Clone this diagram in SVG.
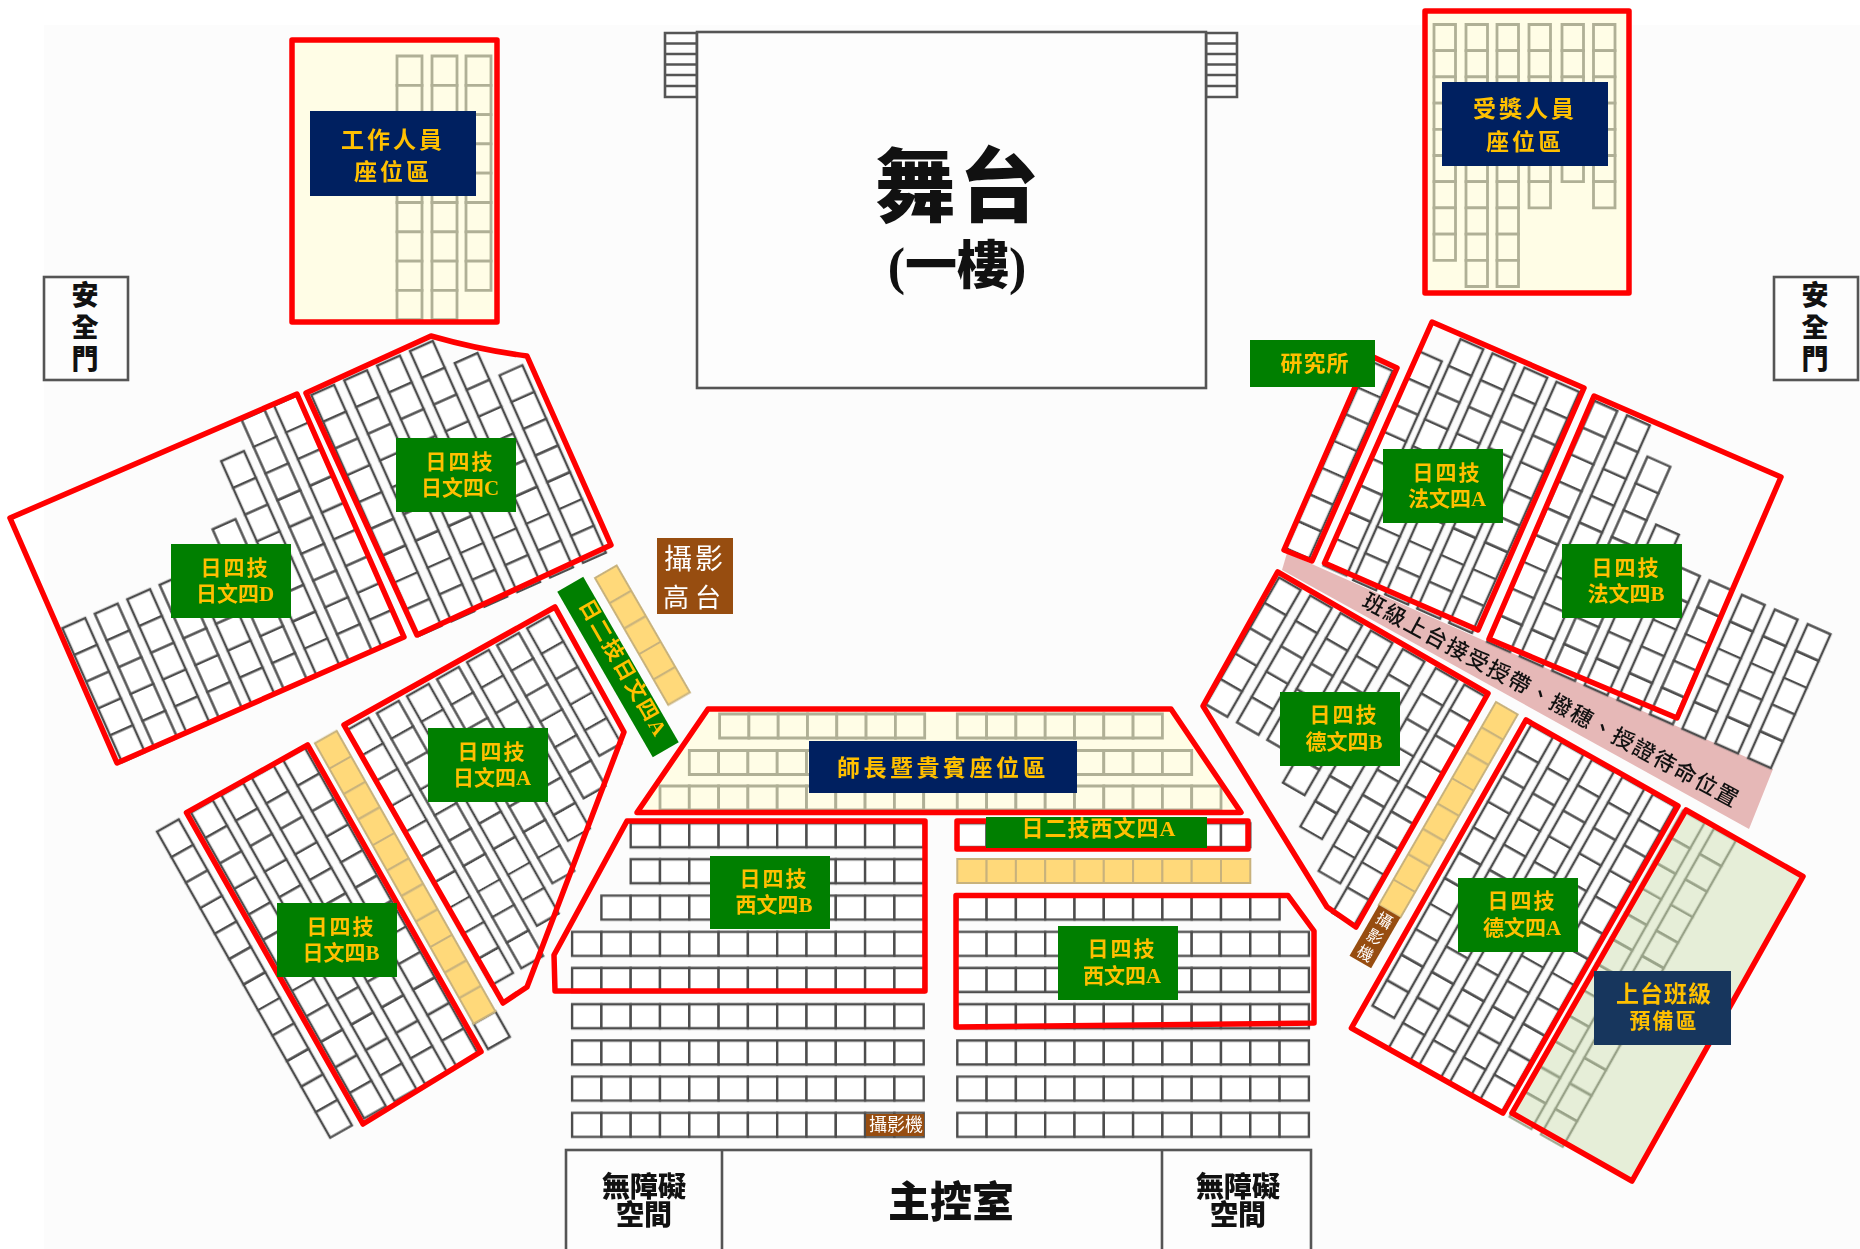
<svg xmlns="http://www.w3.org/2000/svg" xmlns:xlink="http://www.w3.org/1999/xlink" width="1860" height="1249" viewBox="0 0 1860 1249">
<style>
text{font-family:"Liberation Serif","Noto Sans CJK TC",serif;text-anchor:middle}
.seats{fill:#fff;stroke:#4d4d4d;stroke-width:2.4;filter:url(#soft)}
.muted{fill:#fffde6;stroke:#b0b096;stroke-width:2.8;filter:url(#soft)}
.olive{fill:none;stroke:#98a288;stroke-width:2.4;filter:url(#soft)}
.gold{fill:#ffd97a;stroke:#c8b27c;stroke-width:2;filter:url(#soft)}
.edge{fill:none;stroke:#999;stroke-width:2;filter:url(#soft)}
.red{fill:none;stroke:#f00;stroke-width:5.5;stroke-linejoin:round}
.line{fill:#fdfdfd;stroke:#555;stroke-width:2.6;filter:url(#soft)}
.g{fill:#007f00}.n{fill:#002060}.b{fill:#974d10}
.lb{fill:#ffc000;font-weight:700;font-size:21px}
.nb{fill:#ffc000;font-weight:700;font-size:23px;letter-spacing:3px}
.bk{fill:#111;font-weight:900}
.s1{letter-spacing:2px}
</style>
<defs>
<filter id="soft" x="-5%" y="-5%" width="110%" height="110%"><feGaussianBlur stdDeviation="0.6"/></filter>
<path id="s" d="M0 0h25v29.3H0z"/>
<g id="c2"><use href="#s"/><use href="#s" y="29.3"/></g>
<g id="c4"><use href="#c2"/><use href="#c2" y="58.6"/></g>
<g id="c5"><use href="#c4"/><use href="#s" y="117.2"/></g>
<g id="c6"><use href="#c4"/><use href="#c2" y="117.2"/></g>
<g id="c7"><use href="#c6"/><use href="#s" y="175.8"/></g>
<g id="c8"><use href="#c4"/><use href="#c4" y="117.2"/></g>
<g id="c9"><use href="#c8"/><use href="#s" y="234.4"/></g>
<g id="c10"><use href="#c8"/><use href="#c2" y="234.4"/></g>
<g id="c11"><use href="#c10"/><use href="#s" y="293"/></g>
<g id="c12"><use href="#c8"/><use href="#c4" y="234.4"/></g>
<path id="h" d="M0 0h29.3v24H0z"/>
<g id="h2"><use href="#h"/><use href="#h" x="29.3"/></g>
<g id="h4"><use href="#h2"/><use href="#h2" x="58.6"/></g>
<g id="h7"><use href="#h4"/><use href="#h2" x="117.2"/><use href="#h" x="175.8"/></g>
<g id="h8"><use href="#h4"/><use href="#h4" x="117.2"/></g>
<g id="h9"><use href="#h8"/><use href="#h" x="234.4"/></g>
<g id="h10"><use href="#h8"/><use href="#h2" x="234.4"/></g>
<g id="h11"><use href="#h10"/><use href="#h" x="293"/></g>
<g id="h12"><use href="#h8"/><use href="#h4" x="234.4"/></g>
<path id="t" d="M0 0h21.5v26.2H0z"/>
<g id="t2"><use href="#t"/><use href="#t" y="26.2"/></g>
<g id="t4"><use href="#t2"/><use href="#t2" y="52.4"/></g>
<g id="t6"><use href="#t4"/><use href="#t2" y="104.8"/></g>
<g id="t7"><use href="#t6"/><use href="#t" y="157.2"/></g>
<g id="t9"><use href="#t7"/><use href="#t2" y="183.4"/></g>
<g id="t10"><use href="#t9"/><use href="#t" y="235.8"/></g>
</defs>

<rect id="backdrop" x="44" y="25" width="1816" height="1224" fill="#fcfcfc"/>

<g id="stage">
<path class="line" d="M665 33h32v64h-32zM665 43.500h32M665 54h32M665 64.500h32M665 75h32M665 86h32"/>
<path class="line" d="M1206 33h31v64h-31zM1206 43.500h31M1206 54h31M1206 64.500h31M1206 75h31M1206 86h31"/>
<rect class="line" x="697" y="32" width="509" height="356"/>
<text class="bk" x="959" y="215" font-size="80" letter-spacing="4">舞台</text>
<text class="bk" x="957" y="284" font-size="52">(一樓)</text>
</g>

<g id="door-left"><rect class="line" x="44" y="277" width="84" height="103"/>
<text class="bk" x="85" y="305" font-size="27">安</text><text class="bk" x="85" y="337" font-size="27">全</text><text class="bk" x="85" y="369" font-size="27">門</text></g>
<g id="door-right"><rect class="line" x="1774" y="277" width="84" height="103"/>
<text class="bk" x="1815" y="305" font-size="27">安</text><text class="bk" x="1815" y="337" font-size="27">全</text><text class="bk" x="1815" y="369" font-size="27">門</text></g>

<g id="fills">
<rect x="290" y="38" width="209" height="286" fill="#fffde6"/>
<rect x="1423" y="9" width="207" height="285" fill="#fffde6"/>
<path d="M708 709H1171L1241 812.500H637z" fill="#fffde6"/>
<path d="M1686 810L1803 876.500 1632 1181 1512 1113z" fill="#e6eed8"/>
<path d="M1287 553L1773 769 1749 829 1282 570z" fill="#e6b8b7"/>
</g>

<g id="seats-top" class="muted">
<use href="#c9" x="397" y="56"/><use href="#c9" x="432" y="56"/><use href="#c8" x="466" y="56"/>
<use href="#t9" x="1434" y="24.500"/><use href="#t10" x="1466" y="24.500"/><use href="#t10" x="1497" y="24.500"/><use href="#t7" x="1529" y="24.500"/><use href="#t6" x="1562" y="24.500"/><use href="#t7" x="1593.500" y="24.500"/>
</g>

<g id="seats-d" class="seats" transform="translate(10 518) rotate(-24)">
<use href="#c5" x="3" y="122"/><use href="#c5" x="38.500" y="122"/><use href="#c5" x="74" y="122"/><use href="#c5" x="109.500" y="122"/><use href="#c5" x="145" y="122"/><use href="#c6" x="180.500" y="92.700"/><use href="#c8" x="216" y="34"/><use href="#c9" x="251.500" y="4.800"/><use href="#c9" x="287" y="4.800"/>
</g>
<g id="seats-c" class="seats" transform="translate(306 393) rotate(-24)">
<use href="#c9" x="4" y="4"/><use href="#c9" x="40" y="4"/><use href="#c9" x="76" y="4"/><use href="#c9" x="112" y="4"/><use href="#c8" x="148" y="33.300"/><use href="#c7" x="184" y="62.600"/>
</g>
<g id="seats-a" class="seats" transform="translate(344 725) rotate(-29.500)">
<use href="#c10" x="0" y="6"/><use href="#c10" x="34.500" y="6"/><use href="#c9" x="69" y="6"/><use href="#c8" x="103.500" y="6"/><use href="#c7" x="138" y="6"/><use href="#c6" x="172.500" y="6"/><use href="#c5" x="207" y="6"/>
</g>
<g id="seats-b" class="seats" transform="translate(186.500 812.700) rotate(-29.500)">
<use href="#c12" x="-35" y="2"/><use href="#c12" x="4" y="2"/><use href="#c12" x="39" y="2"/><use href="#c12" x="74" y="2"/><use href="#c12" x="110" y="2"/><use href="#s" x="146" y="325"/>
</g>
<g transform="translate(186.500 812.700) rotate(-29.500)"><path class="edge" d="M144.500 3V325"/><g id="seats-b-gold" class="gold"><use href="#c10" x="146" y="2.700"/><use href="#s" x="146" y="295.700"/></g></g>
<g transform="translate(595 578) rotate(-30)"><path class="edge" d="M26.500 2V147"/><g id="seats-gold-2" class="gold"><use href="#c5"/></g></g>

<g id="seats-center" class="muted">
<use href="#h7" x="719.600" y="714"/><use href="#h7" x="957.300" y="714"/>
<use href="#h8" x="689.300" y="750.500"/><use href="#h8" x="957.300" y="750.500"/>
<use href="#h9" x="660" y="786"/><rect x="923.700" y="786" width="33.600" height="24"/><use href="#h9" x="957.300" y="786"/>
</g>
<g id="seats-rows" class="seats" transform="translate(0 -0.800)">
<use href="#h10" x="630.700" y="824"/><use href="#h10" x="630.700" y="860"/><use href="#h11" x="601.400" y="896.400"/>
<use href="#h12" x="572.100" y="932.600"/><use href="#h12" x="572.100" y="968.800"/><use href="#h12" x="572.100" y="1005"/><use href="#h12" x="572.100" y="1041.200"/><use href="#h12" x="572.100" y="1077.400"/><use href="#h12" x="572.100" y="1113.600"/>
<use href="#h10" x="957.300" y="824"/><use href="#h11" x="957.300" y="896.400"/>
<use href="#h12" x="957.300" y="932.600"/><use href="#h12" x="957.300" y="968.800"/><use href="#h12" x="957.300" y="1005"/><use href="#h12" x="957.300" y="1041.200"/><use href="#h12" x="957.300" y="1077.400"/><use href="#h12" x="957.300" y="1113.600"/>
</g>
<path class="edge" d="M957.300 884.500H1250.300" style="stroke:#777;stroke-width:2.4"/>
<g id="seats-rows-gold" class="gold"><use href="#h10" x="957.300" y="859"/></g>

<g id="seats-research" class="seats" transform="translate(1369 355) rotate(24)"><use href="#c7" x="3" y="5"/></g>
<g id="seats-fa" class="seats" transform="translate(1432 322) rotate(24)">
<use href="#c8" x="0" y="32"/><use href="#c9" x="33" y="4"/><use href="#c9" x="68" y="4"/><use href="#c9" x="103" y="4"/><use href="#c9" x="138" y="4"/>
</g>
<g id="seats-fb" class="seats" transform="translate(1594 396) rotate(24)">
<use href="#c9" x="2.400" y="4.300"/><use href="#c9" x="38" y="4.300"/><use href="#c8" x="73.500" y="33.600"/><use href="#c6" x="109" y="92.200"/><use href="#c5" x="145" y="121.500"/><use href="#c5" x="180.500" y="121.500"/><use href="#c5" x="216" y="121.500"/><use href="#c5" x="252" y="121.500"/><use href="#c5" x="288" y="121.500"/>
</g>
<g id="seats-gb" class="seats" transform="translate(1277.600 572) rotate(30)">
<use href="#c5" x="4" y="4"/><use href="#c5" x="40" y="4"/><use href="#c5" x="75" y="4"/><use href="#c6" x="110" y="4"/><use href="#c7" x="147" y="4"/><use href="#c8" x="185" y="4"/><use href="#c9" x="218" y="4"/>
</g>
<g id="seats-ga" class="seats" transform="translate(1526 720) rotate(29.500)">
<use href="#c11" x="7" y="2"/><use href="#c12" x="42" y="2"/><use href="#c12" x="77" y="2"/><use href="#c12" x="112" y="2"/><use href="#c12" x="147" y="2"/>
</g>
<g id="seats-prep" class="olive" transform="translate(1686 809) rotate(29.500)"><use href="#c12" x="-2" y="3"/><use href="#c12" x="34" y="3"/></g>
<g transform="translate(1496 702) rotate(30)"><path class="edge" d="M26.500 2V292"/><g id="seats-gold-3" class="gold"><use href="#c8"/></g></g>

<g id="outlines" class="red">
<rect x="292" y="40" width="205" height="282"/>
<rect x="1425" y="11" width="204" height="282"/>
<path d="M10 518L297 394 404 637 117 763z"/>
<path d="M306 393L431 336 Q480 350 527 356L611 545 417 635z"/>
<path d="M344 725L555 607 624 732 527 987 503 1003z"/>
<path d="M186.500 812.700L307.700 745 481 1051.700 363 1124z"/>
<path d="M708 709H1171L1241 812.500H637z"/>
<path d="M627 821H925V991H555L554 955z"/>
<rect x="957" y="821" width="291" height="28"/>
<path d="M956 895.500H1288L1314 931V1023L956 1027z"/>
<path d="M1369 355L1397 368 1312 561 1284 550z"/>
<path d="M1432 322L1584 388 1478 630 1324.500 563z"/>
<path d="M1594 396L1781 477 1677 718 1489 639z"/>
<path d="M1277.600 572L1488 693.500 1356 927 1327 907 1203 706z"/>
<path d="M1526 720L1678 806 1503 1113 1351.400 1028z"/>
<path d="M1686 810L1803 876.500 1632 1181 1512 1113z"/>
</g>

<g id="control-room">
<rect class="line" x="566" y="1150" width="745" height="110"/>
<path class="line" d="M722 1150V1249M1162 1150V1249"/>
<text class="bk" font-size="28"><tspan x="644" y="1197">無障礙</tspan><tspan x="644" y="1225">空間</tspan></text>
<text class="bk" x="951" y="1217" font-size="42">主控室</text>
<text class="bk" font-size="28"><tspan x="1238" y="1197">無障礙</tspan><tspan x="1238" y="1225">空間</tspan></text>
</g>

<g id="label-staff"><rect class="n" x="310" y="111" width="166" height="85"/><text class="nb" x="393" y="148">工作人員</text><text class="nb" x="393" y="180">座位區</text></g>
<g id="label-award"><rect class="n" x="1442" y="82" width="166" height="84"/><text class="nb" x="1525" y="117">受獎人員</text><text class="nb" x="1525" y="150">座位區</text></g>
<g id="label-guest"><rect class="n" x="809" y="741" width="268" height="52"/><text class="nb" x="943" y="776" style="letter-spacing:3.500px">師長暨貴賓座位區</text></g>
<g id="label-prep"><rect fill="#17365d" x="1594" y="971" width="137" height="74"/><text class="lb" x="1664" y="1002" style="font-size:23px;letter-spacing:1px">上台班級</text><text class="lb s1" x="1664" y="1028">預備區</text></g>
<g id="label-photo"><rect class="b" x="657" y="538" width="76" height="76"/><text x="695" y="569" fill="#fff" font-size="28" letter-spacing="3">攝影</text><text x="695" y="607" fill="#fff" font-size="26" letter-spacing="6">高台</text></g>
<g id="label-camera"><rect class="b" x="866" y="1114" width="58" height="22"/><text x="896" y="1131" fill="#fff" font-size="18">攝影機</text></g>
<g id="label-camera-2" transform="translate(1496 702) rotate(30)"><rect class="b" y="234.400" width="25" height="58.600"/><text transform="translate(12.500 251)" fill="#fff" font-size="16">攝</text><text transform="translate(12.500 270)" fill="#fff" font-size="16">影</text><text transform="translate(12.500 289)" fill="#fff" font-size="16">機</text></g>

<g id="label-stage-band" transform="translate(618 667) rotate(60)"><path class="g" d="M-95.500 -15H95.500V15H-95.500z"/><text class="lb" x="4" y="3" letter-spacing="2">日二技日文四A</text></g>
<g id="label-research"><rect class="g" x="1250" y="340" width="125" height="47"/><text class="lb" x="1315" y="371" style="font-size:22px;letter-spacing:1px">研究所</text></g>
<g id="label-c"><rect class="g" x="396" y="438" width="120" height="74"/><text class="lb s1" x="460" y="468.500">日四技</text><text class="lb" x="460" y="495">日文四C</text></g>
<g id="label-d"><rect class="g" x="171" y="544" width="120" height="74"/><text class="lb s1" x="235" y="574.500">日四技</text><text class="lb" x="235" y="601">日文四D</text></g>
<g id="label-a"><rect class="g" x="428" y="728" width="120" height="74"/><text class="lb s1" x="492" y="758.500">日四技</text><text class="lb" x="492" y="785">日文四A</text></g>
<g id="label-b"><rect class="g" x="277" y="903" width="120" height="74"/><text class="lb s1" x="341" y="933.500">日四技</text><text class="lb" x="341" y="960">日文四B</text></g>
<g id="label-wb"><rect class="g" x="710" y="856" width="120" height="73"/><text class="lb s1" x="774" y="885.500">日四技</text><text class="lb" x="774" y="912">西文四B</text></g>
<g id="label-wa"><rect class="g" x="1058" y="926" width="120" height="74"/><text class="lb s1" x="1122" y="955.500">日四技</text><text class="lb" x="1122" y="983">西文四A</text></g>
<g id="label-w2"><rect class="g" x="986" y="817" width="221" height="31"/><text class="lb" x="1099" y="836" style="font-size:22px;letter-spacing:1px">日二技西文四A</text></g>
<g id="label-fa"><rect class="g" x="1383" y="449" width="120" height="74"/><text class="lb s1" x="1447" y="479.500">日四技</text><text class="lb" x="1447" y="506">法文四A</text></g>
<g id="label-fb"><rect class="g" x="1562" y="544" width="120" height="74"/><text class="lb s1" x="1626" y="574.500">日四技</text><text class="lb" x="1626" y="601">法文四B</text></g>
<g id="label-gb"><rect class="g" x="1280" y="692" width="120" height="74"/><text class="lb s1" x="1344" y="721.500">日四技</text><text class="lb" x="1344" y="749">德文四B</text></g>
<g id="label-ga"><rect class="g" x="1458" y="878" width="120" height="74"/><text class="lb s1" x="1522" y="907.500">日四技</text><text class="lb" x="1522" y="935">德文四A</text></g>
<g id="label-band" transform="translate(1547.500 707) rotate(28.500)"><text fill="#111" font-size="22" font-weight="500" letter-spacing="1.600">班級上台接受授帶、撥穗、授證待命位置</text></g>
</svg>
